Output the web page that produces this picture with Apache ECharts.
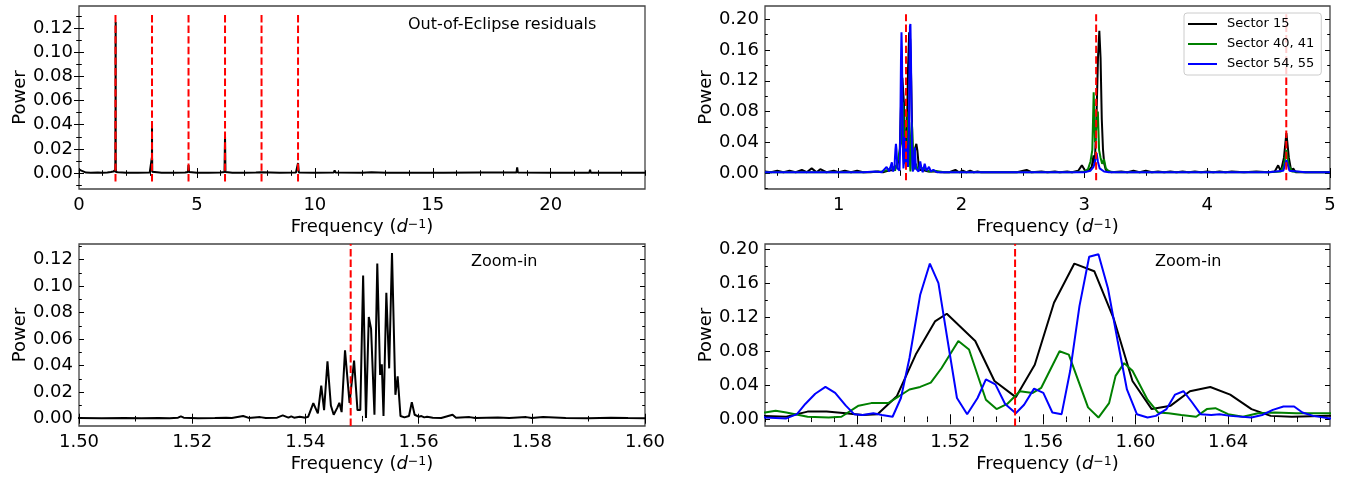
<!DOCTYPE html>
<html>
<head>
<meta charset="utf-8">
<script src="https://cdn.jsdelivr.net/npm/echarts@6/dist/echarts.min.js"></script>
<style>
html,body{margin:0;padding:0;background:#fff;}
#chart{width:1346px;height:481px;}
</style>
</head>
<body>
<div id="chart"></div>
<script>
// ---------------- DATA ----------------
// harmonics of the orbital frequency (red dashed lines)
const harmonicFreqs = [1.548, 3.096, 4.644, 6.192, 7.740, 9.288];
const sectorHarmonics = [1.548, 3.096, 4.644];
const zoomLine = [1.548];
const topLeftLineRange = [-0.0069, 0.1313];
const topRightLineRange = [-0.0095, 0.2065];

// Out-of-eclipse residual periodogram [frequency, power]
const residuals = [
[0.00,0.0030],[0.05,0.0025],[0.10,0.0020],[0.15,0.0008],[0.30,0.0004],[0.50,0.0003],[0.80,0.0004],[1.00,0.0003],[1.20,0.0005],[1.35,0.0008],[1.45,0.0012],[1.48,0.0010],
[1.500,0.0006],[1.504,0.0004],[1.508,0.0006],[1.511,0.0003],[1.514,0.0005],[1.516,0.0004],[1.5175,0.0008],[1.518,0.0018],[1.5185,0.0008],[1.521,0.0004],[1.524,0.0005],[1.526,0.0008],[1.527,0.0006],[1.529,0.0020],[1.530,0.0006],[1.532,0.0012],[1.533,0.0006],[1.535,0.0008],[1.536,0.0025],[1.537,0.0008],[1.5375,0.0018],[1.538,0.0008],[1.539,0.0015],[1.540,0.0008],[1.5405,0.0015],
[1.5414,0.0118],[1.5422,0.0040],[1.5428,0.0250],[1.5433,0.0065],[1.5439,0.0433],[1.5445,0.0100],[1.5450,0.0030],[1.5456,0.0080],[1.5460,0.0120],[1.5464,0.0050],[1.5470,0.0516],[1.5478,0.0120],[1.5486,0.0438],[1.5492,0.0065],[1.5497,0.0065],[1.5502,0.1080],[1.5507,0.0005],[1.5512,0.0767],[1.5516,0.0680],[1.5522,0.0030],[1.5527,0.1170],[1.5532,0.0330],[1.5535,0.0410],[1.5538,0.0020],[1.5543,0.0950],[1.5548,0.0380],[1.5553,0.1250],[1.5559,0.0180],[1.5563,0.0320],[1.5568,0.0020],[1.5575,0.0010],[1.5583,0.0020],[1.5588,0.0125],[1.5593,0.0030],
[1.5600,0.0015],[1.5605,0.0020],[1.5610,0.0010],[1.5615,0.0015],[1.5625,0.0008],[1.5640,0.0006],[1.5660,0.0030],[1.5666,0.0008],[1.5690,0.0012],[1.5700,0.0005],[1.5720,0.0008],[1.5740,0.0010],[1.5760,0.0005],[1.5790,0.0012],[1.5800,0.0005],[1.5820,0.0012],[1.5840,0.0010],[1.5860,0.0005],[1.5900,0.0004],[1.5940,0.0008],[1.5970,0.0005],[1.6000,0.0004],
[1.63,0.0010],[1.66,0.0006],[1.70,0.0004],[2.00,0.0003],[2.50,0.0003],[3.00,0.0005],[3.07,0.0010],[3.090,0.0130],[3.093,0.0030],[3.096,0.0400],[3.099,0.0040],[3.102,0.0120],[3.106,0.0010],[3.15,0.0005],[3.50,0.0003],[4.00,0.0003],[4.50,0.0004],[4.62,0.0008],[4.644,0.0065],[4.67,0.0008],[5.00,0.0003],[5.50,0.0003],[6.00,0.0004],[6.17,0.0008],[6.192,0.0298],[6.21,0.0008],[6.50,0.0003],[7.00,0.0003],[7.50,0.0004],[7.72,0.0006],[7.74,0.0018],[7.76,0.0006],[8.50,0.0003],[9.20,0.0005],[9.288,0.0083],[9.32,0.0005],[10.00,0.0003],[10.80,0.0004],[10.84,0.0022],[10.88,0.0004],[12.00,0.0003],[12.40,0.0006],[13.00,0.0003],[13.90,0.0003],[13.93,0.0012],[13.96,0.0003],[15.00,0.0003],[15.45,0.0003],[15.48,0.0018],[15.51,0.0003],[17.00,0.0004],[18.55,0.0004],[18.58,0.0046],[18.61,0.0004],[20.00,0.0003],[21.64,0.0003],[21.67,0.0027],[21.70,0.0003],[24.00,0.0003]
];

// Sector 15 periodogram
const sector15 = [
[0.40,0.002],[0.45,0.001],[0.50,0.003],[0.55,0.001],[0.60,0.003],[0.65,0.001],[0.70,0.004],[0.74,0.001],[0.78,0.006],[0.82,0.001],[0.85,0.005],[0.90,0.001],[0.96,0.003],[1.00,0.001],[1.05,0.003],[1.10,0.001],[1.15,0.003],[1.20,0.001],[1.26,0.001],[1.32,0.002],[1.36,0.001],[1.40,0.003],
[1.4400,0.004],[1.4492,0.003],[1.4584,0.009],[1.4666,0.009],[1.4749,0.007],[1.4822,0.005],[1.4886,0.006],[1.4969,0.027],[1.5051,0.076],[1.5134,0.115],[1.5185,0.124],[1.5308,0.092],[1.5391,0.045],[1.5483,0.026],[1.5565,0.064],[1.5648,0.137],[1.5736,0.183],[1.5822,0.174],[1.5905,0.119],[1.5987,0.045],[1.6070,0.012],[1.6152,0.016],[1.6235,0.033],[1.6323,0.038],[1.6409,0.029],[1.6501,0.012],[1.6584,0.004],[1.6675,0.003],[1.6841,0.004],
[1.70,0.006],[1.73,0.002],[1.78,0.002],[1.83,0.001],[1.90,0.001],[1.95,0.004],[1.98,0.001],[2.01,0.003],[2.04,0.001],[2.07,0.003],[2.10,0.001],[2.13,0.002],[2.16,0.001],[2.25,0.001],[2.35,0.001],[2.45,0.001],[2.53,0.004],[2.57,0.001],[2.65,0.002],[2.70,0.001],[2.76,0.002],[2.80,0.001],[2.86,0.002],[2.90,0.001],[2.95,0.003],[2.98,0.010],[3.01,0.002],[3.04,0.004],[3.06,0.008],[3.075,0.023],[3.085,0.010],[3.100,0.080],[3.111,0.150],[3.122,0.185],[3.132,0.150],[3.142,0.070],[3.152,0.030],[3.162,0.012],[3.175,0.004],[3.19,0.002],[3.22,0.001],[3.30,0.002],[3.35,0.001],[3.40,0.003],[3.45,0.001],[3.50,0.003],[3.55,0.001],[3.60,0.002],[3.65,0.001],[3.70,0.002],[3.75,0.001],[3.80,0.002],[3.85,0.001],[3.90,0.002],[3.95,0.001],[4.00,0.002],[4.05,0.001],[4.10,0.002],[4.15,0.001],[4.20,0.002],[4.30,0.001],[4.40,0.002],[4.50,0.001],[4.55,0.002],[4.578,0.010],[4.60,0.002],[4.625,0.020],[4.645,0.052],[4.665,0.020],[4.685,0.002],[4.70,0.006],[4.72,0.001],[4.80,0.001],[4.90,0.001],[5.00,0.001]
];

// Sector 40, 41 periodogram
const sector4041 = [
[0.40,0.001],[0.80,0.001],[1.20,0.001],[1.35,0.002],[1.40,0.004],[1.42,0.006],
[1.4400,0.008],[1.4446,0.010],[1.4492,0.008],[1.4584,0.003],[1.4675,0.002],[1.4730,0.003],[1.4804,0.016],[1.4859,0.019],[1.4932,0.019],[1.5024,0.035],[1.5070,0.038],[1.5116,0.043],[1.5162,0.060],[1.5235,0.092],[1.5281,0.082],[1.5354,0.023],[1.5400,0.012],[1.5446,0.018],[1.5501,0.033],[1.5556,0.031],[1.5593,0.037],[1.5672,0.080],[1.5712,0.076],[1.5795,0.014],[1.5840,0.002],[1.5886,0.019],[1.5914,0.051],[1.5951,0.066],[1.5987,0.057],[1.6052,0.023],[1.6097,0.008],[1.6143,0.007],[1.6198,0.005],[1.6262,0.003],[1.6308,0.012],[1.6345,0.013],[1.6400,0.006],[1.6464,0.003],[1.6529,0.007],[1.6602,0.008],[1.6694,0.007],[1.6841,0.007],
[1.70,0.005],[1.74,0.002],[1.78,0.003],[1.82,0.002],[1.86,0.001],[2.00,0.001],[2.50,0.001],[2.90,0.001],[3.00,0.002],[3.03,0.005],[3.05,0.015],[3.065,0.030],[3.076,0.105],[3.087,0.040],[3.098,0.060],[3.110,0.080],[3.120,0.030],[3.132,0.020],[3.145,0.012],[3.160,0.018],[3.175,0.006],[3.20,0.002],[3.25,0.001],[3.50,0.001],[4.00,0.001],[4.50,0.001],[4.60,0.002],[4.625,0.010],[4.645,0.030],[4.665,0.010],[4.69,0.002],[4.80,0.001],[5.00,0.001]
];

// Sector 54, 55 periodogram
const sector5455 = [
[0.40,0.001],[0.80,0.001],[1.20,0.001],[1.30,0.002],[1.35,0.001],[1.39,0.008],[1.41,0.002],[1.433,0.014],
[1.4400,0.002],[1.4492,0.001],[1.4538,0.006],[1.4574,0.018],[1.4617,0.030],[1.4661,0.038],[1.4703,0.031],[1.4749,0.016],[1.4785,0.006],[1.4822,0.005],[1.4868,0.007],[1.4905,0.005],[1.4951,0.003],[1.4987,0.025],[1.5024,0.072],[1.5070,0.146],[1.5112,0.183],[1.5149,0.160],[1.5189,0.092],[1.5229,0.025],[1.5273,0.006],[1.5318,0.025],[1.5354,0.047],[1.5395,0.041],[1.5437,0.018],[1.5483,0.007],[1.5519,0.017],[1.5562,0.036],[1.5602,0.031],[1.5641,0.008],[1.5681,0.006],[1.5718,0.057],[1.5758,0.133],[1.5800,0.191],[1.5840,0.194],[1.5881,0.154],[1.5923,0.092],[1.5963,0.035],[1.6006,0.006],[1.6052,0.002],[1.6088,0.004],[1.6134,0.012],[1.6171,0.029],[1.6207,0.033],[1.6244,0.020],[1.6281,0.006],[1.6327,0.005],[1.6363,0.006],[1.6409,0.004],[1.6501,0.002],[1.6547,0.005],[1.6593,0.011],[1.6639,0.015],[1.6685,0.015],[1.6721,0.008],[1.6767,0.004],[1.6841,0.001],
[1.70,0.012],[1.715,0.003],[1.735,0.008],[1.75,0.002],[1.77,0.004],[1.80,0.001],[2.00,0.001],[2.50,0.001],[3.00,0.001],[3.05,0.003],[3.075,0.008],[3.09,0.018],[3.10,0.026],[3.11,0.015],[3.125,0.006],[3.14,0.008],[3.16,0.002],[3.20,0.001],[4.00,0.001],[4.50,0.001],[4.62,0.003],[4.645,0.017],[4.67,0.003],[4.80,0.001],[5.00,0.001]
];

const seriesNames = ['Sector 15', 'Sector 40, 41', 'Sector 54, 55'];
const seriesColors = ['#000000', '#008000', '#0000ff'];

// tick labels
const tlXTicks = [0, 5, 10, 15, 20];
const tlYTicks = [0.00, 0.02, 0.04, 0.06, 0.08, 0.10, 0.12];
const trXTicks = [1, 2, 3, 4, 5];
const trYTicks = [0.00, 0.04, 0.08, 0.12, 0.16, 0.20];
const blXTicks = [1.50, 1.52, 1.54, 1.56, 1.58, 1.60];
const blYTicks = [0.00, 0.02, 0.04, 0.06, 0.08, 0.10, 0.12];
const brXTicks = [1.48, 1.52, 1.56, 1.60, 1.64];
const brYTicks = [0.00, 0.04, 0.08, 0.12, 0.16, 0.20];

// ---------------- LAYOUT ----------------
const FONT = 'DejaVu Sans';
const grids = [
  {left: 79,  top: 6,   width: 566, height: 183},
  {left: 765, top: 6,   width: 565, height: 183},
  {left: 79,  top: 244, width: 566, height: 182},
  {left: 765, top: 244, width: 565, height: 182}
];

function minorTicks(min, max, step) {
  const out = [];
  const k0 = Math.ceil(min / step - 1e-9), k1 = Math.floor(max / step + 1e-9);
  for (let k = k0; k <= k1; k++) out.push(+(k * step).toFixed(6));
  return out;
}
const fmt2 = v => v.toFixed(2);
const fmtInt = v => String(Math.round(v));

const panels = [
  {xr: [0, 24],       yr: [-0.0132, 0.1382], xMaj: tlXTicks, xStep: 1,    yMaj: tlYTicks, yStep: 0.01, xFmt: fmtInt},
  {xr: [0.4, 5],      yr: [-0.0208, 0.2173], xMaj: trXTicks, xStep: 0.5,  yMaj: trYTicks, yStep: 0.02, xFmt: fmtInt},
  {xr: [1.5, 1.6],    yr: [-0.0055, 0.1318], xMaj: blXTicks, xStep: 0.01, yMaj: blYTicks, yStep: 0.01, xFmt: fmt2},
  {xr: [1.44, 1.684], yr: [-0.0079, 0.2060], xMaj: brXTicks, xStep: 0.01, yMaj: brYTicks, yStep: 0.02, xFmt: fmt2}
];

const xAxes = [], yAxes = [], mainX = [], mainY = [];
const tickLine = {color: '#000', width: 1};
const labelStyle = {color: '#000', fontSize: 18, fontFamily: FONT};

panels.forEach((p, gi) => {
  const base = (r) => ({gridIndex: gi, type: 'value', min: r[0], max: r[1], splitLine: {show: false}, axisLine: {show: false}, axisPointer: {show: false}});
  const xMinor = minorTicks(p.xr[0], p.xr[1], p.xStep);
  const yMinor = minorTicks(p.yr[0], p.yr[1], p.yStep);
  mainX.push(xAxes.length);
  xAxes.push(Object.assign(base(p.xr), {
    position: 'bottom',
    axisTick: {show: true, inside: true, length: 5, customValues: p.xMaj, lineStyle: tickLine},
    axisLabel: Object.assign({show: true, customValues: p.xMaj, formatter: p.xFmt, margin: 7}, labelStyle),
    name: '{a|Frequency (}{b|d}{c|\u22121}{a|)}',
    nameLocation: 'middle', nameGap: 29,
    nameTextStyle: {fontFamily: FONT, fontSize: 18, color: '#000', rich: {
      a: {fontFamily: FONT, fontSize: 18, color: '#000'},
      b: {fontFamily: FONT, fontSize: 18, color: '#000', fontStyle: 'italic'},
      c: {fontFamily: FONT, fontSize: 12.5, color: '#000', verticalAlign: 'top'}
    }}
  }));
  xAxes.push(Object.assign(base(p.xr), {position: 'bottom', axisLabel: {show: false},
    axisTick: {show: true, inside: true, length: 2.8, customValues: xMinor, lineStyle: tickLine}}));
  xAxes.push(Object.assign(base(p.xr), {position: 'top', axisLabel: {show: false},
    axisTick: {show: true, inside: true, length: 5, customValues: p.xMaj, lineStyle: tickLine}}));
  xAxes.push(Object.assign(base(p.xr), {position: 'top', axisLabel: {show: false},
    axisTick: {show: true, inside: true, length: 2.8, customValues: xMinor, lineStyle: tickLine}}));

  mainY.push(yAxes.length);
  yAxes.push(Object.assign(base(p.yr), {
    position: 'left',
    axisTick: {show: true, inside: true, length: 5, customValues: p.yMaj, lineStyle: tickLine},
    axisLabel: Object.assign({show: true, customValues: p.yMaj, formatter: fmt2, margin: 6}, labelStyle),
    name: 'Power', nameLocation: 'middle', nameGap: 50,
    nameTextStyle: {fontFamily: FONT, fontSize: 18, color: '#000'}
  }));
  yAxes.push(Object.assign(base(p.yr), {position: 'left', axisLabel: {show: false},
    axisTick: {show: true, inside: true, length: 2.8, customValues: yMinor, lineStyle: tickLine}}));
  yAxes.push(Object.assign(base(p.yr), {position: 'right', axisLabel: {show: false},
    axisTick: {show: true, inside: true, length: 5, customValues: p.yMaj, lineStyle: tickLine}}));
  yAxes.push(Object.assign(base(p.yr), {position: 'right', axisLabel: {show: false},
    axisTick: {show: true, inside: true, length: 2.8, customValues: yMinor, lineStyle: tickLine}}));
});

// ---------------- SERIES ----------------
const series = [];
function dataLine(gi, name, data, color) {
  series.push({type: 'line', name: name, xAxisIndex: mainX[gi], yAxisIndex: mainY[gi],
    data: data, showSymbol: false, symbol: 'none', clip: true, silent: true,
    lineStyle: {color: color, width: 2}, itemStyle: {color: color}});
}
function redLine(gi, f, range) {
  series.push({type: 'line', xAxisIndex: mainX[gi], yAxisIndex: mainY[gi],
    data: [[f, range[0]], [f, range[1]]], showSymbol: false, symbol: 'none', silent: true,
    lineStyle: {color: '#ff0000', width: 2, type: [7.4, 3.2]}});
}

// top-left
dataLine(0, 'residuals', residuals, '#000');
harmonicFreqs.forEach(f => redLine(0, f, topLeftLineRange));
// top-right
[sector15, sector4041, sector5455].forEach((d, i) => dataLine(1, seriesNames[i], d, seriesColors[i]));
sectorHarmonics.forEach(f => redLine(1, f, topRightLineRange));
// bottom-left
dataLine(2, 'residuals', residuals, '#000');
zoomLine.forEach(f => redLine(2, f, panels[2].yr));
// bottom-right
[sector15, sector4041, sector5455].forEach((d, i) => dataLine(3, seriesNames[i], d, seriesColors[i]));
zoomLine.forEach(f => redLine(3, f, panels[3].yr));

const option = {
  animation: false,
  backgroundColor: '#ffffff',
  grid: grids.map(g => Object.assign({show: true, borderColor: '#444', borderWidth: 1.3,
    backgroundColor: 'transparent', containLabel: false, outerBoundsMode: 'none'}, g)),
  xAxis: xAxes,
  yAxis: yAxes,
  legend: {
    data: seriesNames, orient: 'vertical', left: 1184, top: 13,
    padding: [4, 7, 4, 4], itemGap: 6, itemWidth: 29, itemHeight: 2, icon: 'rect',
    backgroundColor: 'rgba(255,255,255,0.8)', borderColor: '#cccccc', borderWidth: 1, borderRadius: 3,
    selectedMode: false,
    textStyle: {fontFamily: FONT, fontSize: 13, lineHeight: 14, color: '#000', padding: [0, 0, 0, 5]}
  },
  graphic: [
    {type: 'text', left: 408, top: 17, style: {text: 'Out-of-Eclipse residuals', fontFamily: FONT, fontSize: 16, fill: '#000'}},
    {type: 'text', left: 471, top: 254, style: {text: 'Zoom-in', fontFamily: FONT, fontSize: 16, fill: '#000'}},
    {type: 'text', left: 1155, top: 254, style: {text: 'Zoom-in', fontFamily: FONT, fontSize: 16, fill: '#000'}}
  ],
  series: series
};

const chart = echarts.init(document.getElementById('chart'), null, {renderer: 'canvas'});
chart.setOption(option);
</script>
</body>
</html>
